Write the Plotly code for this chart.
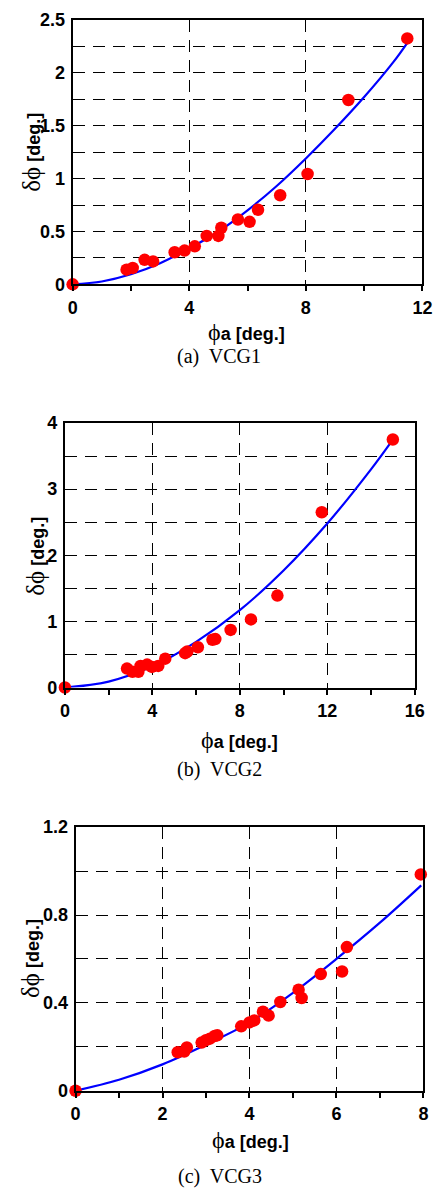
import plotly.graph_objects as go

W, H = 445, 1202

# ---------------- data ----------------
# (a) VCG1
a_x = [0, 1.85, 2.06, 2.47, 2.76, 3.50, 3.84, 4.19, 4.60, 5.00, 5.10, 5.67, 6.07, 6.36, 7.12, 8.06, 9.46, 11.48]
a_y = [0, 0.139, 0.155, 0.232, 0.217, 0.303, 0.319, 0.359, 0.458, 0.458, 0.535, 0.613, 0.591, 0.705, 0.842, 1.043, 1.742, 2.324]
a_fit_x = [0, 1, 2, 3, 4, 5, 6, 7, 8, 9, 10, 11, 11.5]
a_fit_y = [0, 0.027, 0.095, 0.20, 0.34, 0.50, 0.70, 0.93, 1.19, 1.47, 1.77, 2.10, 2.29]

# (b) VCG2
b_x = [0, 2.84, 3.09, 3.36, 3.46, 3.76, 3.98, 4.27, 4.59, 5.50, 5.60, 6.08, 6.75, 6.88, 7.58, 8.51, 9.72, 11.75, 15.0]
b_y = [0, 0.287, 0.238, 0.238, 0.327, 0.347, 0.312, 0.327, 0.436, 0.52, 0.545, 0.609, 0.723, 0.733, 0.871, 1.03, 1.39, 2.65, 3.75]
b_fit_x = [0, 2, 4, 6, 8, 10, 12, 14, 15]
b_fit_y = [0, 0.09, 0.32, 0.69, 1.17, 1.77, 2.48, 3.30, 3.75]

# (c) VCG3
c_x = [0, 2.35, 2.50, 2.56, 2.90, 3.00, 3.09, 3.20, 3.26, 3.81, 4.00, 4.11, 4.31, 4.44, 4.71, 5.13, 5.20, 5.64, 6.13, 6.24, 7.94]
c_y = [0, 0.175, 0.178, 0.197, 0.219, 0.23, 0.237, 0.249, 0.252, 0.293, 0.311, 0.32, 0.36, 0.342, 0.404, 0.46, 0.422, 0.531, 0.543, 0.654, 0.985]
c_fit_x = [0, 1, 2, 3, 4, 5, 6, 7, 7.95]
c_fit_y = [0, 0.05, 0.12, 0.21, 0.31, 0.445, 0.60, 0.765, 0.935]

captions = ["(a)  VCG1", "(b)  VCG2", "(c)  VCG3"]

# ---------------- layout geometry (pixels) ----------------
panels = [
    dict(px=(70, 432), py=(10, 279), xr=[0, 12], xt=[0, 4, 8, 12], xminor=2,
         yr=[0, 2.5], ygrid=0.25, ylab=0.5,
         xtitle=(250, 327), ytitle=(27, 145), cap=(221, 352),
         data=(a_x, a_y, a_fit_x, a_fit_y)),
    dict(px=(62, 424), py=(420, 689), xr=[0, 16], xt=[0, 4, 8, 12, 16], xminor=2,
         yr=[0, 4], ygrid=0.5, ylab=1,
         xtitle=(243, 742), ytitle=(32, 555), cap=(222, 772),
         data=(b_x, b_y, b_fit_x, b_fit_y)),
    dict(px=(73, 433), py=(831, 1099), xr=[0, 8], xt=[0, 2, 4, 6, 8], xminor=1,
         yr=[0, 1.2], ygrid=0.2, ylab=0.4,
         xtitle=(254, 1149), ytitle=(27, 965), cap=(222, 1186),
         data=(c_x, c_y, c_fit_x, c_fit_y)),
]

fig = go.Figure()
layout = dict(
    width=W, height=H, margin=dict(l=0, r=0, t=0, b=0),
    paper_bgcolor="white", plot_bgcolor="white", showlegend=False,
    annotations=[],
)

tickfont = dict(family="Liberation Sans, Arial", size=18, color="black", weight=700)

for i, p in enumerate(panels):
    n = "" if i == 0 else str(i + 1)
    xa, ya = "x" + n, "y" + n
    xs, ys, fx, fy = p["data"]
    fig.add_trace(go.Scatter(x=fx, y=fy, mode="lines", line=dict(color="#0000ff", width=2.2, shape="spline"),
                             xaxis=xa, yaxis=ya, cliponaxis=False, hoverinfo="skip"))
    fig.add_trace(go.Scatter(x=xs, y=ys, mode="markers", marker=dict(color="#ff0000", size=12.5),
                             xaxis=xa, yaxis=ya, cliponaxis=False))
    x0, x1 = p["px"]
    y0, y1 = p["py"]
    nsteps = int(round(p["yr"][1] / p["ygrid"]))
    yvals = [round(k * p["ygrid"], 4) for k in range(nsteps + 1)]
    ytext = []
    for v in yvals:
        r = v / p["ylab"]
        ytext.append(("%g" % v) if abs(r - round(r)) < 1e-6 else "")
    layout["xaxis" + n] = dict(
        domain=[x0 / W, x1 / W], anchor=ya, range=p["xr"],
        tickvals=p["xt"], ticktext=[str(v) for v in p["xt"]],
        ticks="outside", ticklen=5, tickwidth=2, tickcolor="black",
        minor=dict(dtick=p["xminor"], tick0=0, ticks="outside", ticklen=5, tickwidth=2, tickcolor="black", showgrid=False),
        showgrid=True, gridcolor="black", gridwidth=1.2, griddash="12px,8px",
        showline=True, linecolor="black", linewidth=2, mirror=True,
        zeroline=False, tickfont=tickfont, ticklabelstandoff=1,
    )
    layout["yaxis" + n] = dict(
        domain=[1 - y1 / H, 1 - y0 / H], anchor=xa, range=p["yr"],
        tickvals=yvals, ticktext=ytext, ticks="",
        showgrid=True, gridcolor="black", gridwidth=1.2, griddash="12px,8px",
        showline=True, linecolor="black", linewidth=2, mirror=True,
        zeroline=False, tickfont=tickfont, ticklabelstandoff=2,
    )
    # axis titles
    tx, ty = p["xtitle"]
    layout["annotations"].append(dict(
        xref="paper", yref="paper", x=tx / W, y=1 - ty / H, xanchor="center", yanchor="middle",
        showarrow=False,
        text="<span style='font-family:Liberation Serif;font-size:24px'>ϕ</span><b>a [deg.]</b>",
        font=dict(family="Liberation Sans, Arial", size=18, color="black"),
    ))
    tx, ty = p["ytitle"]
    layout["annotations"].append(dict(
        xref="paper", yref="paper", x=tx / W, y=1 - ty / H, xanchor="center", yanchor="middle",
        showarrow=False, textangle=-90,
        text="<span style='font-family:Liberation Serif;font-size:25px'>δϕ</span><b> [deg.]</b>",
        font=dict(family="Liberation Sans, Arial", size=18, color="black"),
    ))
    cx, cy = p["cap"]
    layout["annotations"].append(dict(
        xref="paper", yref="paper", x=cx / W, y=1 - cy / H, xanchor="center", yanchor="middle",
        showarrow=False, text=captions[i],
        font=dict(family="Liberation Serif, Times New Roman", size=20, color="black"),
    ))

fig.update_layout(**layout)
fig.write_html("out.html")
